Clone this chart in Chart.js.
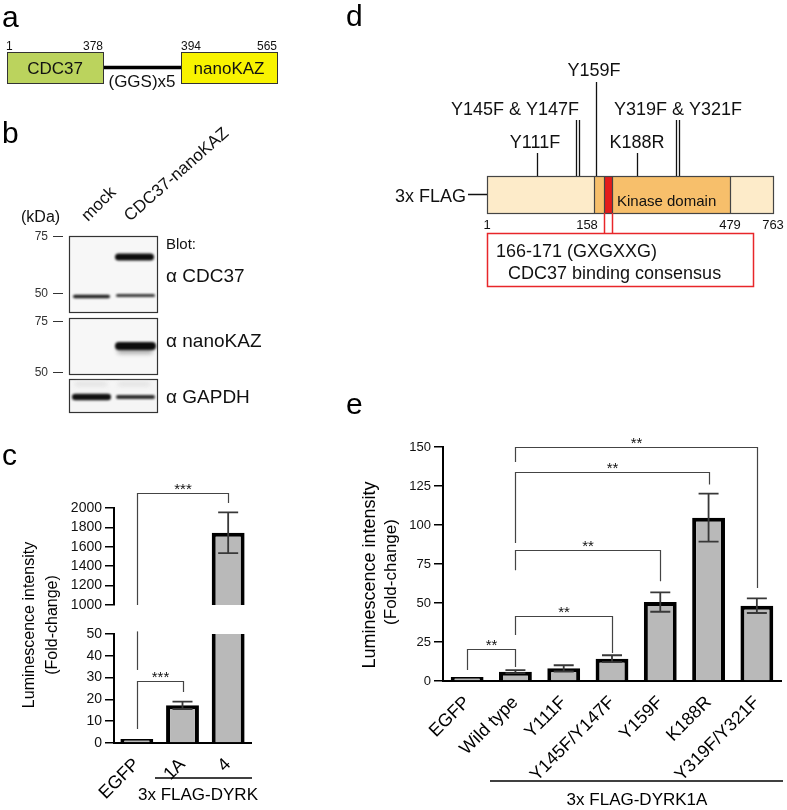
<!DOCTYPE html>
<html lang="en">
<head>
<meta charset="utf-8">
<title>CDC37-nanoKAZ / DYRK</title>
<script src="https://cdn.jsdelivr.net/npm/chart.js@4.4.0/dist/chart.umd.min.js"></script>
<style>
  body{margin:0;background:#fff;}
  #fig{position:relative;width:787px;height:810px;overflow:hidden;}
  #fig canvas{position:absolute;}
</style>
</head>
<body>
<div id="fig">
  <canvas id="diagram" width="787" height="810" style="left:0;top:0"></canvas>
  <canvas id="cLow" width="262" height="370" style="left:0;top:440px"></canvas>
  <canvas id="cHigh" width="262" height="370" style="left:0;top:440px"></canvas>
  <canvas id="e" width="447" height="390" style="left:340px;top:420px"></canvas>
</div>
<script>
// panel c: luminescence, EGFP vs DYRK1A / DYRK4
var dyrkLabels = ['EGFP', '1A', '4'];
var dyrkMeans = [1, 17.3, 1745];
var dyrkErr = [0, 1.7, 210];

// panel e: DYRK1A point mutants
var mutLabels = ['EGFP', 'Wild type', 'Y111F', 'Y145F/Y147F', 'Y159F', 'K188R', 'Y319F/Y321F'];
var mutMeans = [1, 6, 8.1, 14.3, 50.6, 104.7, 48.3];
var mutErr = [0, 1, 2, 2.2, 6.2, 15.4, 4.7];

var FONT = '"Liberation Sans", Arial, sans-serif';

// ---------- plugins ----------
function errorBars(errs) {
  return {
    id: 'errorBars',
    afterDatasetsDraw: function(chart) {
      var ctx = chart.ctx, a = chart.chartArea, y = chart.scales.y;
      var bars = chart.getDatasetMeta(0).data, vals = chart.data.datasets[0].data;
      ctx.save();
      ctx.beginPath();
      ctx.rect(a.left, a.top, a.right - a.left, a.bottom - a.top);
      ctx.clip();
      ctx.strokeStyle = '#383838';
      ctx.lineWidth = 1.8;
      errs.forEach(function(e, i) {
        if (!e) return;
        var x = bars[i].x;
        var t = y.getPixelForValue(vals[i] + e), b = y.getPixelForValue(vals[i] - e);
        ctx.beginPath();
        ctx.moveTo(x, t); ctx.lineTo(x, b);
        ctx.moveTo(x - 10, t); ctx.lineTo(x + 10, t);
        ctx.moveTo(x - 10, b); ctx.lineTo(x + 10, b);
        ctx.stroke();
      });
      ctx.restore();
    }
  };
}

// items: {from, to, level, left, right, text} or {at, top, bottom} for a bare leg
function brackets(items) {
  return {
    id: 'brackets',
    afterDatasetsDraw: function(chart) {
      var ctx = chart.ctx, y = chart.scales.y, bars = chart.getDatasetMeta(0).data;
      ctx.save();
      ctx.strokeStyle = '#444';
      ctx.lineWidth = 1.2;
      ctx.fillStyle = '#111';
      ctx.font = '15px ' + FONT;
      ctx.textAlign = 'center';
      items.forEach(function(b) {
        ctx.beginPath();
        if (b.at !== undefined) {
          var xa = Math.round(bars[b.at].x) + 0.5;
          ctx.moveTo(xa, y.getPixelForValue(b.top));
          ctx.lineTo(xa, y.getPixelForValue(b.bottom));
          ctx.stroke();
          return;
        }
        var x1 = Math.round(bars[b.from].x) + 0.5, x2 = Math.round(bars[b.to].x) + 0.5;
        var yb = Math.round(y.getPixelForValue(b.level)) + 0.5;
        ctx.moveTo(x1, y.getPixelForValue(b.left));
        ctx.lineTo(x1, yb);
        ctx.lineTo(x2, yb);
        ctx.lineTo(x2, y.getPixelForValue(b.right));
        ctx.stroke();
        ctx.fillText(b.text, (x1 + x2) / 2, yb);
      });
      ctx.restore();
    }
  };
}

function figText(lines, texts) {
  return {
    id: 'figText',
    afterDraw: function(chart) {
      var ctx = chart.ctx;
      ctx.save();
      ctx.strokeStyle = '#000';
      ctx.lineWidth = 1.5;
      lines.forEach(function(l) {
        ctx.beginPath(); ctx.moveTo(l[0], l[1]); ctx.lineTo(l[2], l[3]); ctx.stroke();
      });
      ctx.fillStyle = '#000';
      texts.forEach(function(t) {
        ctx.save();
        ctx.translate(t[1], t[2]);
        ctx.rotate(t[4] || 0);
        ctx.font = t[3] + 'px ' + FONT;
        ctx.textAlign = 'center';
        ctx.textBaseline = t[4] ? 'middle' : 'alphabetic';
        ctx.fillText(t[0], 0, 0);
        ctx.restore();
      });
      ctx.restore();
    }
  };
}

function barSet(vals, pct, minLen) {
  return {
    data: vals,
    backgroundColor: '#b9b9b9',
    borderColor: '#000',
    borderWidth: 4,
    categoryPercentage: 1,
    barPercentage: pct,
    minBarLength: minLen,
    clip: 0
  };
}

function yAxis(min, max, step, size, w) {
  return {
    min: min, max: max,
    ticks: {
      stepSize: step, autoSkip: false, color: '#111', padding: 3,
      font: { family: FONT, size: size },
      callback: function(v) { return String(v); }
    },
    grid: { drawOnChartArea: false, color: '#000', lineWidth: 1.5, tickLength: 9 },
    border: { color: '#000', width: 2 },
    afterFit: function(s) { s.width = w; }
  };
}

function xAxis(h, show) {
  return {
    display: show,
    grid: { display: false },
    border: { color: '#000', width: 2 },
    ticks: { color: '#000', font: { family: FONT, size: 18 }, minRotation: 45, maxRotation: 45, padding: 3, autoSkip: false },
    afterFit: function(s) { s.height = h; }
  };
}

var quiet = { legend: { display: false }, tooltip: { enabled: false } };

// ---------- panel c (broken axis: two stacked charts) ----------
new Chart(document.getElementById('cLow'), {
  type: 'bar',
  data: { labels: dyrkLabels, datasets: [barSet(dyrkMeans, 0.72, 4)] },
  options: {
    responsive: false, animation: false,
    layout: { padding: { top: 194, right: 11, left: 0, bottom: 0 } },
    plugins: quiet,
    scales: { x: xAxis(67, true), y: yAxis(0, 50, 10, 14, 114) }
  },
  plugins: [
    errorBars(dyrkErr),
    brackets([
      { at: 0, top: 51.2, bottom: 33.5 },
      { from: 0, to: 1, level: 28.4, left: 6.4, right: 23.4, text: '***' }
    ]),
    figText(
      [[155, 338, 252, 338]],
      [['3x FLAG-DYRK', 198, 360, 17],
       ['Luminescence intensity', 30, 185, 16, -Math.PI / 2],
       ['(Fold-change)', 53, 185, 16, -Math.PI / 2]]
    )
  ]
});

new Chart(document.getElementById('cHigh'), {
  type: 'bar',
  data: { labels: dyrkLabels, datasets: [barSet(dyrkMeans, 0.72, 0)] },
  options: {
    responsive: false, animation: false,
    layout: { padding: { top: 68, right: 11, left: 0, bottom: 205 } },
    plugins: quiet,
    scales: { x: xAxis(0, false), y: yAxis(1000, 2000, 200, 14, 114) }
  },
  plugins: [
    errorBars(dyrkErr),
    brackets([{ from: 0, to: 2, level: 2155, left: 1000, right: 2052, text: '***' }])
  ]
});

// ---------- panel e ----------
new Chart(document.getElementById('e'), {
  type: 'bar',
  data: { labels: mutLabels, datasets: [barSet(mutMeans, 0.68, 4)] },
  options: {
    responsive: false, animation: false,
    layout: { padding: { top: 27, right: 6, left: 0, bottom: 0 } },
    plugins: quiet,
    scales: { x: xAxis(129, true), y: yAxis(0, 150, 25, 13, 103) }
  },
  plugins: [
    errorBars(mutErr),
    brackets([
      { from: 0, to: 1, level: 20.5, left: 7, right: 9, text: '**' },
      { from: 1, to: 3, level: 41.7, left: 29.5, right: 18, text: '**' },
      { from: 1, to: 4, level: 84, left: 71, right: 64, text: '**' },
      { from: 1, to: 5, level: 134, left: 88.5, right: 126, text: '**' },
      { from: 1, to: 6, level: 150, left: 140.4, right: 59.6, text: '**' }
    ]),
    figText(
      [[150, 361, 443, 361]],
      [['3x FLAG-DYRK1A', 297, 385, 17],
       ['Luminescence intensity', 30, 155, 18, -Math.PI / 2],
       ['(Fold-change)', 51, 152, 17, -Math.PI / 2]]
    )
  ]
});

// ---------- panels a, b, d (schematics and blot) ----------
var d = document.getElementById('diagram').getContext('2d');

function txt(s, x, y, size, align, color) {
  d.font = size + 'px ' + FONT;
  d.textAlign = align || 'left';
  d.fillStyle = color || '#111';
  d.fillText(s, x, y);
}
function rtxt(s, x, y, size, ang) {
  d.save();
  d.translate(x, y);
  d.rotate(ang);
  txt(s, 0, 0, size);
  d.restore();
}
function box(x, y, w, h, fill, stroke, lw) {
  if (fill) { d.fillStyle = fill; d.fillRect(x, y, w, h); }
  if (stroke) { d.strokeStyle = stroke; d.lineWidth = lw || 1; d.strokeRect(x + 0.5, y + 0.5, w, h); }
}
function line(x1, y1, x2, y2, lw, col) {
  d.strokeStyle = col || '#111';
  d.lineWidth = lw || 1.3;
  d.beginPath(); d.moveTo(x1, y1); d.lineTo(x2, y2); d.stroke();
}
function band(x, y, w, h, col, blur) {
  d.save();
  d.filter = 'blur(' + (blur || 1) + 'px)';
  d.fillStyle = col;
  d.beginPath();
  d.roundRect(x, y - h / 2, w, h, h / 2);
  d.fill();
  d.restore();
}

// panel letters
txt('a', 2, 27, 30, 'left', '#000');
txt('b', 2, 143, 30, 'left', '#000');
txt('c', 2, 465, 30, 'left', '#000');
txt('d', 346, 26, 30, 'left', '#000');
txt('e', 346, 414, 30, 'left', '#000');

// a: fusion construct
txt('1', 6, 50, 12);
txt('378', 103, 50, 12, 'right');
txt('394', 181, 50, 12);
txt('565', 277, 50, 12, 'right');
line(103, 67.5, 181, 67.5, 3.5, '#000');
box(7, 52, 96, 31, '#bbd35d', '#333', 1);
box(181, 52, 96, 31, '#f8f300', '#333', 1);
txt('CDC37', 55, 74, 17, 'center');
txt('nanoKAZ', 229, 74, 17, 'center');
txt('(GGS)x5', 142, 87, 17, 'center');

// b: western blot
txt('(kDa)', 21, 222, 16);
rtxt('mock', 88, 222, 17, -Math.PI / 4);
rtxt('CDC37-nanoKAZ', 130, 222, 17, -0.72);
box(69, 236, 88, 76, '#f7f7f7', '#333', 1.2);
box(69, 318, 88, 56, '#f7f7f7', '#333', 1.2);
box(69, 379, 88, 33, '#f5f5f5', '#333', 1.2);
[[236, '75'], [293, '50'], [321, '75'], [372, '50']].forEach(function(m) {
  txt(m[1], 48, m[0] + 4, 12, 'right', '#333');
  line(53, m[0] + 0.5, 63, m[0] + 0.5, 1, '#333');
});
band(73, 296.5, 37, 3.5, '#1e1e1e');
band(116, 295.5, 39, 3, '#3a3a3a');
band(115, 257, 39, 7, '#0c0c0c');
band(117, 350, 36, 8, '#b0b0b0', 2);
band(115, 346, 41, 8, '#0c0c0c');
band(72, 397, 39, 6.5, '#111');
band(116, 397, 39, 4, '#2c2c2c');
band(75, 384, 32, 3, '#dadada', 2);
band(118, 384, 32, 3, '#dadada', 2);
txt('Blot:', 166, 249, 15);
txt('\u03b1 CDC37', 166, 282, 19);
txt('\u03b1 nanoKAZ', 166, 347, 19);
txt('\u03b1 GAPDH', 166, 403, 19);

// d: DYRK1A domain map
box(487, 176, 286, 37, '#fdebc9');
box(594, 176, 136, 37, '#f7bf6b');
box(604, 176, 8, 37, '#e31b1b');
d.strokeStyle = '#444'; d.lineWidth = 1.2;
d.strokeRect(487.5, 176.5, 286, 37);
line(594.5, 176, 594.5, 213, 1.2, '#444');
line(604.5, 176, 604.5, 213, 1.2, '#444');
line(612.5, 176, 612.5, 213, 1.2, '#444');
line(730.5, 176, 730.5, 213, 1.2, '#444');
txt('Kinase domain', 617, 206, 15);
txt('3x FLAG', 466, 202, 18, 'right');
line(468, 194.5, 487, 194.5, 1.5, '#111');
txt('1', 487, 229, 13, 'center');
txt('158', 587, 229, 13, 'center');
txt('479', 730, 229, 13, 'center');
txt('763', 773, 229, 13, 'center');
line(537.5, 153, 537.5, 176);
line(576.5, 120, 576.5, 176);
line(579.5, 120, 579.5, 176);
line(596.5, 82, 596.5, 176);
line(637.5, 153, 637.5, 176);
line(676.5, 120, 676.5, 176);
line(679.5, 120, 679.5, 176);
txt('Y111F', 535, 148, 18, 'center');
txt('Y145F & Y147F', 515, 115, 18, 'center');
txt('Y159F', 594, 76, 18, 'center');
txt('K188R', 637, 148, 18, 'center');
txt('Y319F & Y321F', 678, 115, 18, 'center');
line(604.5, 213, 604.5, 233, 1.5, '#e8262a');
line(612.5, 213, 612.5, 233, 1.5, '#e8262a');
box(487, 233, 266, 53, null, '#e8262a', 1.5);
txt('166-171 (GXGXXG)', 496, 257, 18);
txt('CDC37 binding consensus', 508, 279, 18);
</script>
</body>
</html>
